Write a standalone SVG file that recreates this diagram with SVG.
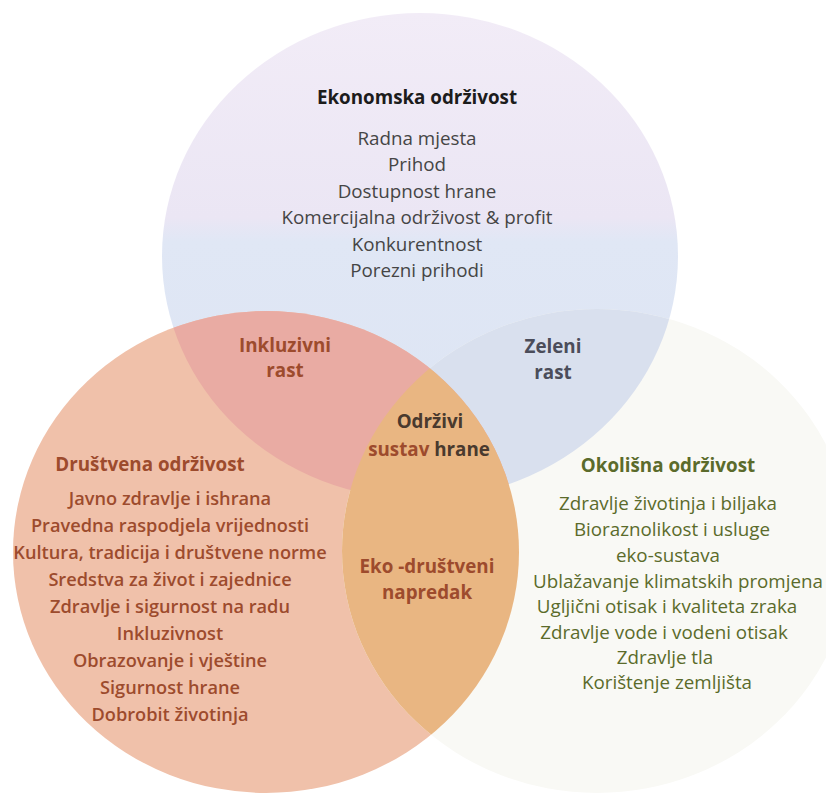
<svg xmlns="http://www.w3.org/2000/svg" width="826" height="796" viewBox="0 0 826 796">
  <defs>
    <linearGradient id="econFill" gradientUnits="userSpaceOnUse" x1="0" y1="13" x2="0" y2="499">
      <stop offset="0" stop-color="#f2ecf7"/>
      <stop offset="0.42" stop-color="#ebe6f4"/>
      <stop offset="0.47" stop-color="#e0e7f5"/>
      <stop offset="1" stop-color="#dce4f3"/>
    </linearGradient>
    <ellipse id="econShape" cx="420" cy="256" rx="258" ry="243"/>
    <ellipse id="socShape" cx="266" cy="552" rx="253" ry="241"/>
    <ellipse id="envShape" cx="597" cy="551" rx="255" ry="242"/>
    <clipPath id="clipEcon"><use href="#econShape"/></clipPath>
    <clipPath id="clipSoc"><use href="#socShape"/></clipPath>
    <style>
      text { font-family: "Open Sans", "Noto Sans", "DejaVu Sans", sans-serif; text-anchor: middle; }
      .title { font-size: 18.8px; font-weight: 700; }
      .item { font-size: 18.8px; }
      .econ-title { fill: #1c1c1c; }
      .econ-item { fill: #454545; }
      .soc { fill: #9d4b2d; }
      .soc-item { fill: #9d4b2d; font-weight: 600; font-size: 18.2px; }
      .env { fill: #5b6b2b; }
      .green { fill: #4b4d5a; }
      .dark { fill: #4a3a2e; }
    </style>
  </defs>

  <rect width="826" height="796" fill="#ffffff"/>

  <!-- circles and their overlaps -->
  <g id="economic-circle">
    <use href="#econShape" fill="url(#econFill)"/>
  </g>
  <g id="social-circle">
    <use href="#socShape" fill="#f0c1aa"/>
  </g>
  <g id="environmental-circle">
    <use href="#envShape" fill="#f9f9f5"/>
  </g>
  <g id="overlaps">
    <!-- economic and environmental: green growth -->
    <use href="#envShape" fill="#d9e0ee" clip-path="url(#clipEcon)"/>
    <!-- economic and social: inclusive growth -->
    <use href="#socShape" fill="#e9aba3" clip-path="url(#clipEcon)"/>
    <!-- social and environmental, incl. the centre -->
    <use href="#envShape" fill="#e9b682" clip-path="url(#clipSoc)"/>
  </g>

  <!-- economic sustainability -->
  <g id="economic-text">
    <text class="title econ-title" x="417" y="104">Ekonomska održivost</text>
    <text class="item econ-item" x="417" y="145">Radna mjesta</text>
    <text class="item econ-item" x="417" y="171">Prihod</text>
    <text class="item econ-item" x="417" y="198">Dostupnost hrane</text>
    <text class="item econ-item" x="417" y="224">Komercijalna održivost &amp; profit</text>
    <text class="item econ-item" x="417" y="251">Konkurentnost</text>
    <text class="item econ-item" x="417" y="277">Porezni prihodi</text>
  </g>

  <!-- intersections -->
  <g id="inclusive-growth">
    <text class="title soc" x="285" y="352">Inkluzivni</text>
    <text class="title soc" x="285" y="377">rast</text>
  </g>
  <g id="green-growth">
    <text class="title green" x="553" y="353">Zeleni</text>
    <text class="title green" x="553" y="379">rast</text>
  </g>
  <g id="sustainable-food-system">
    <text class="title dark" x="430" y="428">Održivi</text>
    <text class="title" x="429" y="456"><tspan class="soc">sustav</tspan> <tspan class="dark">hrane</tspan></text>
  </g>
  <g id="eco-social-progress">
    <text class="title soc" x="427" y="573">Eko -društveni</text>
    <text class="title soc" x="427" y="599">napredak</text>
  </g>

  <!-- social sustainability -->
  <g id="social-text">
    <text class="title soc" x="150" y="471">Društvena održivost</text>
    <text class="item soc-item" x="170" y="505">Javno zdravlje i ishrana</text>
    <text class="item soc-item" x="170" y="532">Pravedna raspodjela vrijednosti</text>
    <text class="item soc-item" x="170" y="559">Kultura, tradicija i društvene norme</text>
    <text class="item soc-item" x="170" y="586">Sredstva za život i zajednice</text>
    <text class="item soc-item" x="170" y="613">Zdravlje i sigurnost na radu</text>
    <text class="item soc-item" x="170" y="640">Inkluzivnost</text>
    <text class="item soc-item" x="170" y="667">Obrazovanje i vještine</text>
    <text class="item soc-item" x="170" y="694">Sigurnost hrane</text>
    <text class="item soc-item" x="170" y="721">Dobrobit životinja</text>
  </g>

  <!-- environmental sustainability -->
  <g id="environmental-text">
    <text class="title env" x="668" y="472">Okolišna održivost</text>
    <text class="item env" x="668" y="510">Zdravlje životinja i biljaka</text>
    <text class="item env" x="672" y="536">Bioraznolikost i usluge</text>
    <text class="item env" x="668" y="562">eko-sustava</text>
    <text class="item env" x="678" y="588">Ublažavanje klimatskih promjena</text>
    <text class="item env" x="667" y="613">Ugljični otisak i kvaliteta zraka</text>
    <text class="item env" x="664" y="639">Zdravlje vode i vodeni otisak</text>
    <text class="item env" x="665" y="664">Zdravlje tla</text>
    <text class="item env" x="667" y="689">Korištenje zemljišta</text>
  </g>
</svg>
